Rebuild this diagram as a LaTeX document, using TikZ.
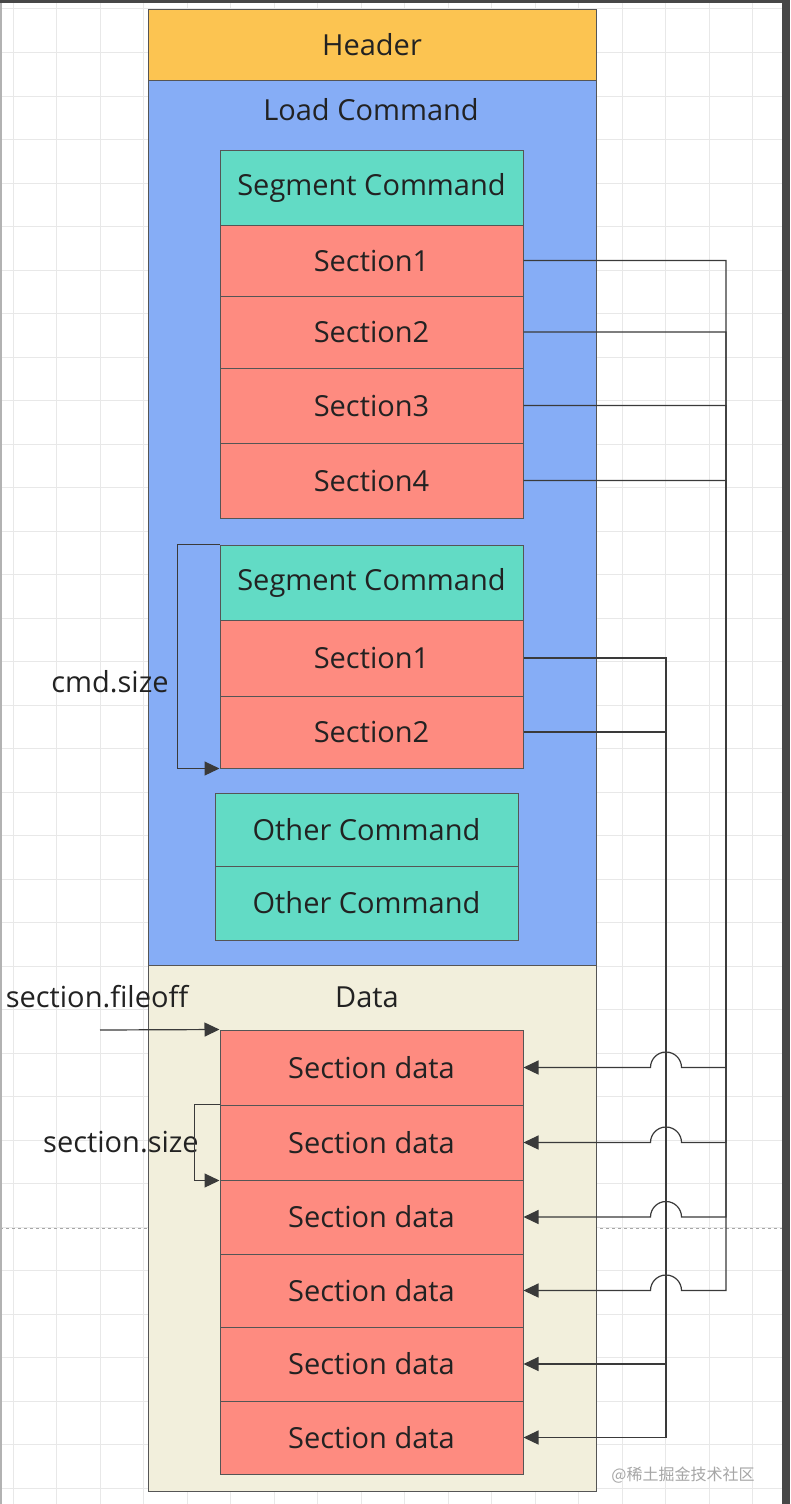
\documentclass[tikz,border=0pt]{standalone}
\usepackage{fontspec}
\setmainfont{Open Sans}
\newfontfamily\cjkfont{Noto Sans CJK SC}
\usetikzlibrary{arrows.meta,calc}
\definecolor{hdr}{HTML}{FCC451}
\definecolor{ldc}{HTML}{86ADF6}
\definecolor{teal}{HTML}{62DBC5}
\definecolor{sect}{HTML}{FE8B80}
\definecolor{datab}{HTML}{F2EFDC}
\definecolor{edge}{HTML}{555555}
\definecolor{ink}{HTML}{222222}
\definecolor{gridc}{HTML}{E8E8E8}
\definecolor{wire}{HTML}{3A3A3A}
\tikzset{
  txt/.style={font=\fontsize{29}{33}\selectfont, text=ink},
  box/.style={draw=edge, line width=1pt, txt, inner sep=0pt},
  hdrbox/.style={box, fill=hdr},
  cmdbox/.style={box, fill=teal},
  secbox/.style={box, fill=sect},
  wirel/.style={draw=wire, line width=1.2pt},
  arr/.style={wirel, -{Triangle[length=15pt,width=14pt]}},
}
\begin{document}
\begin{tikzpicture}[x=1pt,y=-1pt]
\useasboundingbox (0,0) rectangle (790,1504);
\fill[white] (0,0) rectangle (790,1504);
% grid
\foreach \i in {0,...,17} { \draw[gridc, line width=1pt] (13+43.5*\i,0) -- (13+43.5*\i,1504); }
\foreach \j in {0,...,34} { \draw[gridc, line width=1pt] (0,9+43.5*\j) -- (782,9+43.5*\j); }
\draw[gray!70, dashed, line width=0.8pt] (0,1228) -- (782,1228);
\fill[gray!60] (0,0) rectangle (2,1504);
\fill[black!72] (0,0) rectangle (790,3);
\fill[black!72] (782,0) rectangle (790,1504);

% outer blocks
\node[hdrbox, minimum width=448pt, minimum height=70pt] (hdr) at (372,45) {Header};
\node[box, fill=ldc, minimum width=448pt, minimum height=885pt] (lc) at (372,522.5) {};
\node[txt] (lct) at (371,110) {Load Command};
\node[box, fill=datab, minimum width=448pt, minimum height=526pt] (db) at (372,1228) {};
\node[txt] (dbt) at (367,997) {Data};

% first segment
\node[cmdbox, minimum width=303pt, minimum height=75pt] (g1) at (371.5,187.5) {Segment Command};
\node[secbox, minimum width=303pt, minimum height=71pt] (a1) at (371.5,260.5) {Section1};
\node[secbox, minimum width=303pt, minimum height=72pt] (a2) at (371.5,332) {Section2};
\node[secbox, minimum width=303pt, minimum height=75pt] (a3) at (371.5,405.5) {Section3};
\node[secbox, minimum width=303pt, minimum height=75pt] (a4) at (371.5,480.5) {Section4};

% second segment
\node[cmdbox, minimum width=303pt, minimum height=75pt] (g2) at (371.5,582.5) {Segment Command};
\node[secbox, minimum width=303pt, minimum height=76pt] (b1) at (371.5,658) {Section1};
\node[secbox, minimum width=303pt, minimum height=72pt] (b2) at (371.5,732) {Section2};

% other commands
\node[cmdbox, minimum width=303pt, minimum height=73pt] (o1) at (366.5,829.5) {Other Command};
\node[cmdbox, minimum width=303pt, minimum height=74pt] (o2) at (366.5,903) {Other Command};

% section data
\node[secbox, minimum width=303pt, minimum height=75pt] (d1) at (371.5,1067.5) {Section data};
\node[secbox, minimum width=303pt, minimum height=75pt] (d2) at (371.5,1142.5) {Section data};
\node[secbox, minimum width=303pt, minimum height=74pt] (d3) at (371.5,1217) {Section data};
\node[secbox, minimum width=303pt, minimum height=73pt] (d4) at (371.5,1290.5) {Section data};
\node[secbox, minimum width=303pt, minimum height=74pt] (d5) at (371.5,1364) {Section data};
\node[secbox, minimum width=303pt, minimum height=73pt] (d6) at (371.5,1437.5) {Section data};

% labels
\node[txt] (cmdl) at (110,682) {cmd.size};
\node[txt] (fol) at (97,997) {section.fileoff};
\node[txt] (szl) at (121,1142) {section.size};

% helper coordinates
\coordinate (rx) at (726,0);
\coordinate (mx) at (666,0);
\coordinate (jx) at (681.5,0);
\coordinate (fo) at (100,1030);

% brackets
\draw[arr] (g2.north west) -- ++(-42,0) |- (b2.south west);
\draw[arr] (fo) -- (d1.north west);
\draw[arr] (d2.north west) -- ++(-25,0) |- (d2.south west);

% connectors from second segment (vertical at 666)
\draw[arr] (b1.east) -- (b1.east -| mx) -- (d5.east -| mx) -- (d5.east);
\draw[arr] (b2.east) -- (b2.east -| mx) -- (d6.east -| mx) -- (d6.east);

% connectors from first segment (vertical at 726, jumping over 666)
\foreach \s/\d in {a1/d1,a2/d2,a3/d3,a4/d4} {
  \draw[arr] (\s.east) -- (\s.east -| rx) -- (\d.east -| rx) -- (\d.east -| jx)
     arc[start angle=0,end angle=180,radius=15.5pt] -- (\d.east);
}

% watermark
\node[font=\cjkfont\fontsize{16}{18}\selectfont, text=black!35] (wm) at (683,1475) {@稀土掘金技术社区};
\end{tikzpicture}
\end{document}
